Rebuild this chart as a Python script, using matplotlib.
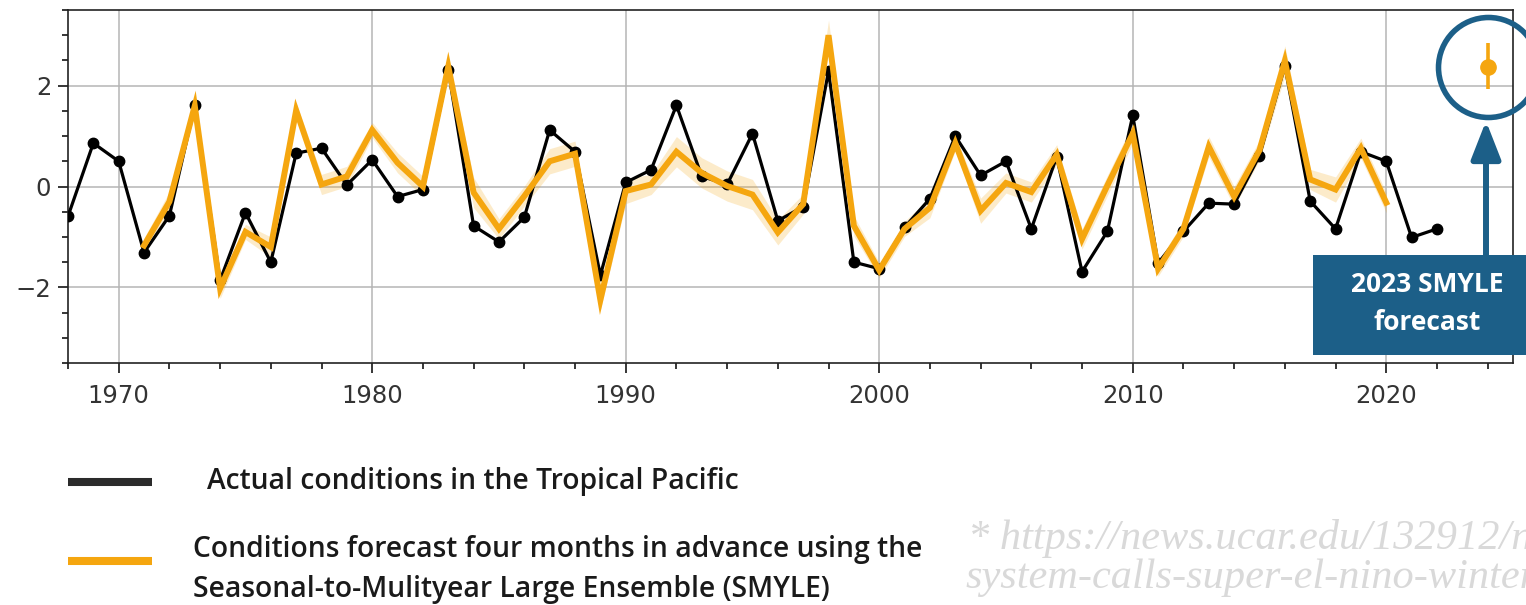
import numpy as np
import matplotlib
matplotlib.use("Agg")
import matplotlib.pyplot as plt
from matplotlib.patches import Rectangle
from matplotlib.ticker import MultipleLocator

# observed Nino index, 1968-2022
obs_years = list(range(1968, 2023))
obs_values = [
    -0.59, 0.86, 0.50, -1.31, -0.58, 1.61, -1.86, -0.52, -1.50, 0.66,
    0.76, 0.03, 0.53, -0.20, -0.06, 2.31, -0.78, -1.10, -0.61, 1.12,
    0.69, -1.76, 0.08, 0.33, 1.61, 0.20, 0.04, 1.05, -0.68, -0.40,
    2.29, -1.50, -1.63, -0.81, -0.24, 1.00, 0.22, 0.50, -0.84, 0.59,
    -1.69, -0.89, 1.41, -1.52, -0.89, -0.33, -0.35, 0.61, 2.39, -0.29,
    -0.84, 0.69, 0.50, -1.01, -0.84,
]

# SMYLE ensemble mean (4-month lead) and ensemble half-spread, 1971-2020
fc_years = list(range(1971, 2021))
fc_values = [
    -1.17, -0.30, 1.60, -2.02, -0.90, -1.20, 1.51, 0.04, 0.20, 1.12,
    0.47, 0.00, 2.38, -0.12, -0.84, -0.19, 0.50, 0.65, -2.25, -0.09,
    0.04, 0.69, 0.27, 0.01, -0.16, -0.91, -0.35, 3.00, -0.78, -1.66,
    -0.84, -0.42, 0.86, -0.48, 0.07, -0.11, 0.63, -1.04, 0.02, 1.05,
    -1.63, -0.84, 0.79, -0.20, 0.72, 2.49, 0.14, -0.06, 0.76, -0.32,
]
fc_spread = [
    0.15, 0.20, 0.15, 0.20, 0.15, 0.20, 0.15, 0.20, 0.20, 0.15,
    0.20, 0.20, 0.15, 0.30, 0.20, 0.20, 0.25, 0.25, 0.20, 0.25,
    0.20, 0.30, 0.30, 0.30, 0.30, 0.25, 0.20, 0.30, 0.20, 0.15,
    0.15, 0.20, 0.15, 0.25, 0.20, 0.20, 0.20, 0.20, 0.20, 0.20,
    0.15, 0.15, 0.20, 0.20, 0.20, 0.30, 0.20, 0.25, 0.20, 0.20,
]

# winter 2023-24 forecast point
new_fc_x = 2024
new_fc_value = 2.37
new_fc_low, new_fc_high = 1.93, 2.85

ORANGE = "#f5a60f"
BLUE = "#1c5f88"
W, H = 1526, 605

fig = plt.figure(figsize=(W / 100, H / 100), dpi=100)
ax = fig.add_axes([68 / W, 1 - 363 / H, (1513 - 68) / W, (363 - 10) / H])

lo = np.array(fc_values) - np.array(fc_spread)
hi = np.array(fc_values) + np.array(fc_spread)
ax.fill_between(fc_years, lo, hi, color=ORANGE, alpha=0.22, lw=0, zorder=2)
ax.plot(obs_years, obs_values, color="black", lw=2.3, marker="o", ms=7.5, zorder=3)
ax.plot(fc_years, fc_values, color=ORANGE, lw=4.3, zorder=4, solid_joinstyle="miter")

ax.errorbar([new_fc_x], [new_fc_value],
            yerr=[[new_fc_value - new_fc_low], [new_fc_high - new_fc_value]],
            fmt="o", color=ORANGE, ms=11, elinewidth=2.6, capsize=0, zorder=5)
# highlight ring around the new forecast
ax.plot([new_fc_x], [new_fc_value], marker="o", ms=72, mfc="none", mec=BLUE,
        mew=4.0, clip_on=False, zorder=6)

ax.set_xlim(1968, 2025)
ax.set_ylim(-3.5, 3.5)
ax.xaxis.set_major_locator(MultipleLocator(10))
ax.xaxis.set_minor_locator(MultipleLocator(2))
ax.yaxis.set_major_locator(MultipleLocator(2))
ax.yaxis.set_minor_locator(MultipleLocator(0.5))
ax.yaxis.set_major_formatter(plt.FuncFormatter(lambda v, _: f"{v:.0f}".replace("-", "\u2212")))
ax.grid(True, which="major", color="#b5b5b5", lw=1.1)
ax.set_axisbelow(True)
ax.tick_params(which="major", length=7, width=1.1, labelsize=17.5, labelcolor="#333333", pad=5)
ax.tick_params(axis="x", which="major", pad=8)
ax.tick_params(which="minor", length=4.3, width=1.1)
for sp in ax.spines.values():
    sp.set_linewidth(1.2)
    sp.set_color("#222222")

# callout box and arrow
fig.add_artist(Rectangle((1313 / W, 1 - 355 / H), (W - 1313) / W + 0.01, 100 / H,
                         transform=fig.transFigure, facecolor=BLUE, edgecolor="none",
                         zorder=10))
fig.text(1427 / W, 1 - 284 / H, "2023 SMYLE", color="white", fontsize=19,
         fontweight="bold", family="Open Sans", ha="center", va="center", zorder=11)
fig.text(1427 / W, 1 - 322 / H, "forecast", color="white", fontsize=19,
         fontweight="bold", family="Open Sans", ha="center", va="center", zorder=11)
ax.annotate("", xy=(1486, H - 121), xycoords="figure pixels",
            xytext=(1486, H - 256), textcoords="figure pixels",
            arrowprops=dict(arrowstyle="-|>,head_length=23,head_width=9",
                            mutation_scale=1, lw=4.3, color=BLUE,
                            shrinkA=0, shrinkB=0),
            annotation_clip=False, zorder=12)

# legend drawn by hand below the axes
fig.add_artist(plt.Line2D([68 / W, 152 / W], [1 - 482 / H] * 2, color="#2b2b2b",
                          lw=5.8, solid_capstyle="butt"))
fig.add_artist(plt.Line2D([68 / W, 152 / W], [1 - 561 / H] * 2, color=ORANGE,
                          lw=5.8, solid_capstyle="butt"))
legend_font = dict(family="Open Sans", fontweight="semibold", fontsize=20.3,
                   color="#1a1a1a", va="center", ha="left")
fig.text(207 / W, 1 - 481 / H, "Actual conditions in the Tropical Pacific", **legend_font)
fig.text(193 / W, 1 - 549 / H, "Conditions forecast four months in advance using the",
         **legend_font)
fig.text(193 / W, 1 - 589 / H, "Seasonal-to-Mulityear Large Ensemble (SMYLE)", **legend_font)

# source note, runs off the right edge of the sheet
url_font = dict(family="Liberation Serif", style="italic", fontsize=30.5, color="#d9d9d9",
                va="center", ha="left")
fig.text(968 / W, 1 - 538 / H, "* https://news.ucar.edu/132912/n", **url_font)
fig.text(965 / W, 1 - 578 / H, "system-calls-super-el-nino-winter", **url_font)

fig.savefig("out.png", dpi=100, facecolor="white")
